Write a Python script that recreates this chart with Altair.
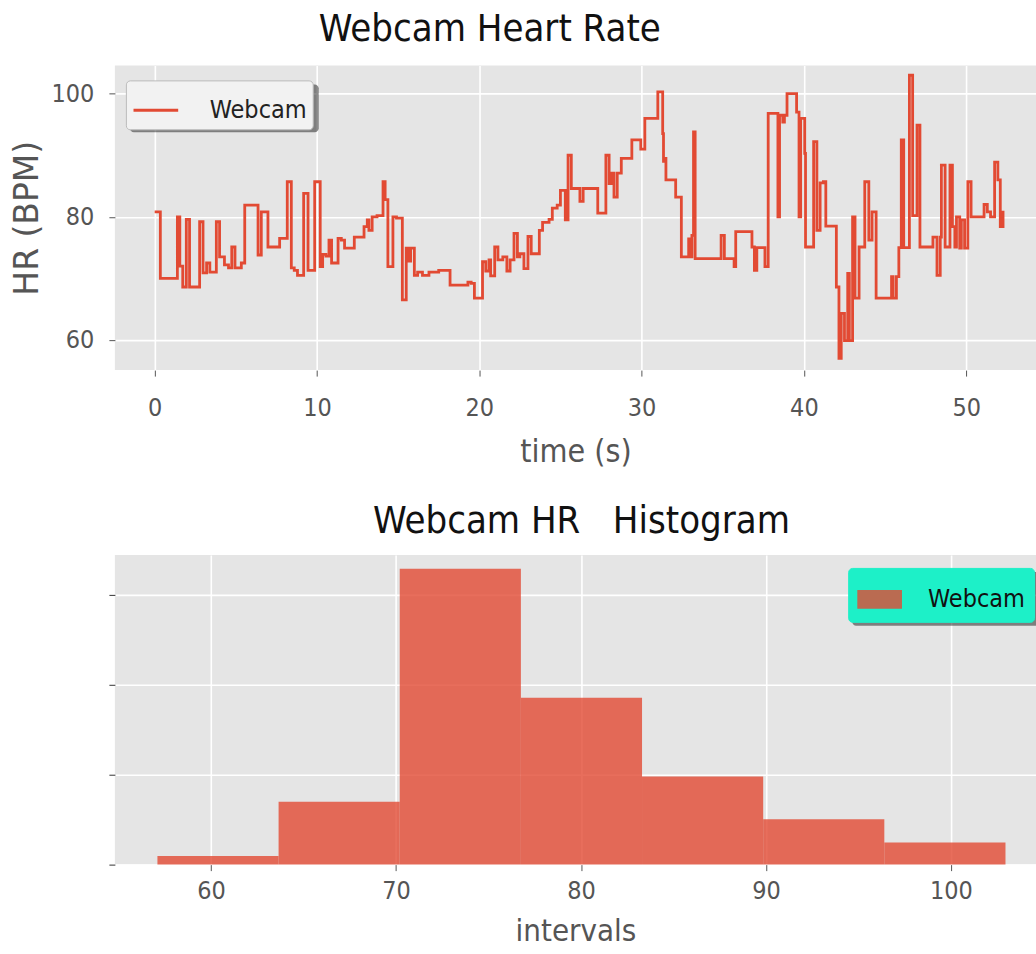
import altair as alt
import pandas as pd

# Heart-rate trace (seconds, beats per minute)
time_s = [
    0.0, 0.3, 0.35, 0.9, 1.4, 1.55, 1.73, 1.95, 2.15, 2.55, 2.77, 2.98, 3.2, 3.4, 3.8, 4.0, 4.3, 4.55,
    4.75, 4.95, 5.34, 5.55, 6.2, 6.37, 6.57, 6.98, 7.6, 7.7, 7.95, 8.17, 8.42,
    8.6, 8.8, 9.18, 9.45, 9.86, 10.2, 10.35, 10.55, 10.74, 10.9, 11.1, 11.3, 11.5, 11.7, 12.2, 12.3,
    12.7, 12.9, 13.1, 13.2, 13.4, 13.7, 14.07, 14.2, 14.37, 14.68, 14.9, 15.26, 15.5, 15.65, 15.77,
    16.0, 16.2, 16.5, 16.9, 17.5,
    17.9, 18.2, 19.2, 19.3, 19.5, 19.7, 20.0, 20.2, 20.4, 20.6, 20.7, 20.95, 21.15, 21.45, 21.7, 21.9,
    22.14, 22.35, 22.5, 22.75, 23.0, 23.2, 23.4, 23.7, 23.9, 24.3, 24.5, 24.8, 25.0, 25.15, 25.3,
    25.47, 25.67, 26.1, 26.2, 26.4,
    27.2, 27.3, 27.6, 27.8, 28.0, 28.15, 28.3, 28.5, 28.75, 29.25, 29.4, 29.8, 29.95, 30.2, 30.8,
    31.0, 31.3, 31.35, 31.45, 31.5, 31.9, 32.1, 32.45, 32.8, 32.9, 33.0, 33.1, 33.2, 33.3, 34.7,
    34.9, 35.1,
    35.7, 35.8, 36.55, 36.8, 36.95, 37.1, 37.5, 37.6, 37.8, 38.3, 38.4, 38.5, 38.7, 38.8, 38.96,
    39.5, 39.55, 39.7, 39.8, 40.05, 40.1, 40.5, 40.6, 40.8, 41.0, 41.2, 41.35, 41.7, 42.0, 42.16,
    42.3, 42.5, 42.7, 42.8, 43.0, 43.15, 43.4, 43.6, 43.75, 43.9, 44.0, 44.2, 44.45, 45.3, 45.4,
    45.5, 45.7, 45.85, 46.0, 46.15, 46.3, 46.5, 46.7, 46.97, 47.15, 47.8, 47.95, 48.2, 48.4, 48.47,
    48.7, 49.0, 49.15, 49.3, 49.4, 49.6, 49.7, 49.9, 50.1, 50.3, 51.0, 51.1, 51.3, 51.5, 51.75,
    51.95, 52.1, 52.27,
]
heart_rate = [
    80.8, 80.8, 70.0, 70.0, 80.0, 72.0, 68.6, 79.6, 68.6, 68.6, 79.2, 70.9, 72.5, 71.0, 79.2, 73.5, 72.2, 71.7,
    75.1, 71.7, 72.5, 81.9, 81.9, 73.8, 80.8, 75.1, 75.1, 76.5, 76.5, 85.7, 71.7,
    71.3, 70.5, 83.8, 71.3, 85.7, 71.9, 73.9, 73.6, 76.2, 72.5, 72.5, 76.5, 76.2, 74.9, 74.9, 76.7,
    76.7, 78.4, 79.5, 77.8, 80.0, 80.2, 85.7, 82.8, 71.9, 80.0, 79.8, 66.5, 74.9, 72.8, 74.9,
    70.5, 71.0, 70.5, 71.0, 71.3,
    71.3, 68.9, 68.9, 69.4, 69.2, 66.8, 66.8, 72.7, 71.2, 73.0, 70.4, 75.1, 73.0, 73.5, 71.2, 73.0,
    77.3, 73.5, 74.0, 71.6, 76.8, 74.0, 74.0, 77.8, 79.1, 79.6, 81.4, 81.9, 84.3, 84.3, 79.5,
    90.0, 84.6, 84.6, 82.5, 84.6,
    84.6, 80.6, 80.6, 90.0, 85.4, 87.1, 83.2, 87.1, 89.5, 89.5, 92.5, 92.5, 91.0, 96.0, 96.0,
    100.3, 93.5, 89.0, 89.5, 86.0, 86.0, 83.2, 73.5, 73.5, 76.4, 73.5, 77.0, 93.8, 73.2, 73.2,
    77.0, 73.2,
    71.9, 77.6, 77.6, 75.1, 71.3, 75.0, 75.0, 71.9, 96.8, 96.8, 80.0, 96.5, 95.4, 96.5, 100.0,
    100.0, 97.0, 80.0, 96.0, 90.3, 75.1, 75.1, 92.2, 77.8, 85.5, 85.7, 78.5, 78.5, 68.6, 57.0,
    64.3, 59.9, 70.8, 59.9, 80.0, 66.8, 75.1, 75.1, 85.7, 85.7, 76.2, 80.8, 66.8, 66.8, 70.3,
    66.8, 70.3, 75.0, 92.5, 75.0, 75.0, 103.0, 80.2, 94.9, 75.1, 75.1, 76.7, 70.5, 76.7, 88.4,
    75.1, 88.4, 78.4, 75.1, 80.0, 74.9, 79.5, 74.9, 85.7, 80.0, 80.0, 82.0, 80.8, 80.0, 88.9,
    86.0, 78.4, 81.0,
]

# Normalised histogram of the heart rate (bin edges and densities)
bin_start = [57.1, 63.65, 70.2, 76.75, 83.3, 89.85, 96.4]
bin_end = [63.65, 70.2, 76.75, 83.3, 89.85, 96.4, 102.95]
density = [0.0019, 0.0140, 0.0658, 0.0371, 0.0196, 0.0101, 0.0049]

series_name = "Webcam"
red = "#E24A33"
panel_bg = "#E5E5E5"
tick_grey = "#555555"
font = "DejaVu Sans"
narrow = "DejaVu Sans Condensed, DejaVu Sans"

trace = pd.DataFrame({"t": time_s, "hr": heart_rate, "series": series_name})
hist = pd.DataFrame({"lo": bin_start, "hi": bin_end, "d": density, "series": series_name})

# drop shadows behind the two legend boxes (one row each, pixel placement in the panel)
top_shadow = alt.Chart(trace).mark_rect(color="#000000", opacity=0.45, cornerRadius=4).encode(
    x=alt.value(15), x2=alt.value(204), y=alt.value(19), y2=alt.value(67)
).transform_filter("datum.t == 0")

line = alt.Chart(trace).mark_line(color=red, strokeWidth=2.8, interpolate="step-after").encode(
    x=alt.X("t:Q", title="time (s)",
            scale=alt.Scale(domain=[-2.45, 54.3], nice=False, zero=False),
            axis=alt.Axis(values=[0, 10, 20, 30, 40, 50], titleFontSize=32, titlePadding=16,
                          labelPadding=19)),
    y=alt.Y("hr:Q", title="HR (BPM)",
            scale=alt.Scale(domain=[55.1, 104.6], nice=False, zero=False),
            axis=alt.Axis(values=[60, 80, 100], titleFontSize=33, titleFont=font,
                          titlePadding=7, labelPadding=15)),
    color=alt.Color("series:N", scale=alt.Scale(range=[red]),
                    legend=alt.Legend(title=None, orient="none", legendX=11, legendY=15,
                                      symbolType="stroke", symbolSize=2000, symbolStrokeWidth=3,
                                      labelFontSize=25, labelColor="#222222", labelFont=narrow,
                                      labelExpr="datum.label + '\u00a0\u00a0'",
                                      fillColor="#F2F2F2", strokeColor="#BBBBBB", cornerRadius=4,
                                      padding=6, labelOffset=30)),
)

top = alt.layer(top_shadow, line).properties(
    width=922, height=305,
    title=alt.TitleParams("Webcam Heart Rate", anchor="start", frame="group", dx=204,
                          fontSize=38, font=narrow, fontWeight="normal", color="#111111",
                          offset=16),
)

bottom_shadow = alt.Chart(hist).mark_rect(color="#000000", opacity=0.45, cornerRadius=4,
                                          clip=True).encode(
    x=alt.value(738), x2=alt.value(930), y=alt.value(17), y2=alt.value(71)
).transform_filter("datum.lo < 58")

bars = alt.Chart(hist).mark_rect(opacity=0.8).encode(
    x=alt.X("lo:Q", title="intervals",
            scale=alt.Scale(domain=[54.8, 104.6], nice=False, zero=False),
            axis=alt.Axis(values=[60, 70, 80, 90, 100], titleFontSize=31, titlePadding=13,
                          labelPadding=8)),
    x2="hi:Q",
    y=alt.Y("d:Q", title=None,
            scale=alt.Scale(domain=[0, 0.0689], nice=False),
            axis=alt.Axis(values=[0, 0.02, 0.04, 0.06], labels=False, tickColor="#333333")),
    y2=alt.datum(0),
    color=alt.Color("series:N", scale=alt.Scale(range=[red]),
                    legend=alt.Legend(title=None, orient="none", legendX=734, legendY=13,
                                      symbolType="M-1,-0.42H1V0.42H-1Z", symbolSize=2000,
                                      symbolOpacity=0.8, symbolStrokeWidth=0,
                                      labelFontSize=25, labelColor="#111111", labelFont=narrow,
                                      labelExpr="datum.label + '\u00a0\u00a0'",
                                      fillColor="#1DF0C8", strokeColor="#1DF0C8", cornerRadius=4,
                                      padding=9, labelOffset=26)),
)

bottom = alt.layer(bottom_shadow, bars).properties(
    width=922, height=310,
    title=alt.TitleParams("Webcam HR\u00a0\u00a0\u00a0Histogram", anchor="middle", dx=6,
                          fontSize=38, font=narrow, fontWeight="normal", color="#111111",
                          offset=14),
)

chart = alt.vconcat(top, bottom, spacing=36).resolve_scale(color="independent").properties(
    padding={"left": 11, "top": 11, "right": 0, "bottom": 0},
    background="white",
).configure_view(
    fill=panel_bg, stroke=None,
).configure_axis(
    domain=False, grid=True, gridColor="white", gridWidth=1.6,
    labelFont=narrow, labelFontSize=25, labelColor=tick_grey,
    tickColor=tick_grey, tickSize=6, tickWidth=1,
    titleFont=narrow, titleColor=tick_grey, titleFontWeight="normal",
)

chart.save("out.html", embed_options={"renderer": "svg", "actions": False})
